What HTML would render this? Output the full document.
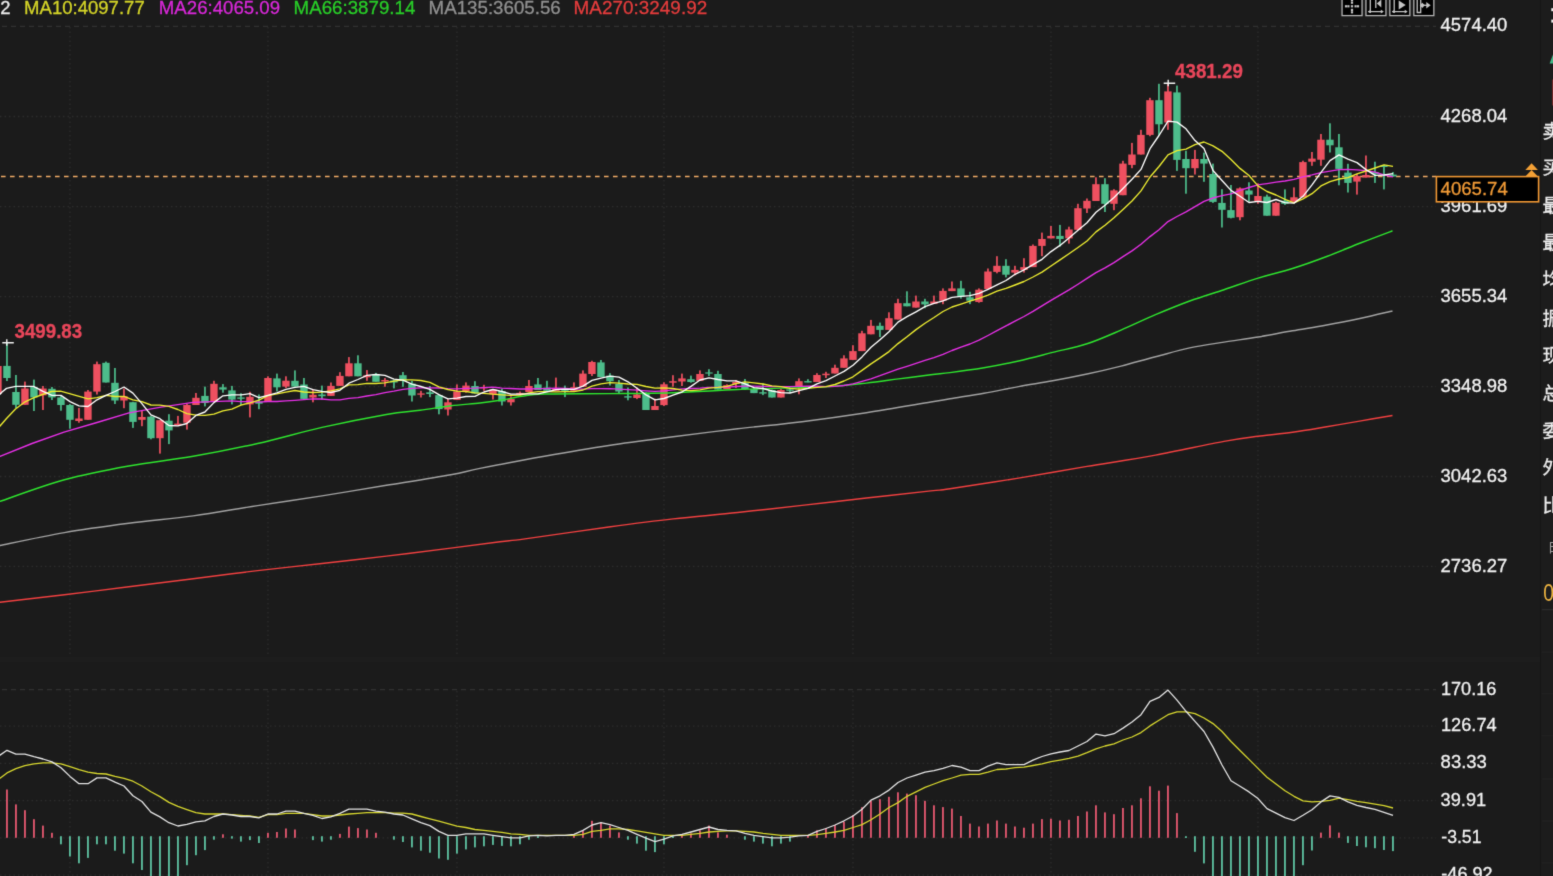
<!DOCTYPE html>
<html lang="zh"><head><meta charset="utf-8"><title>K线图</title>
<style>
html,body{margin:0;padding:0;background:#1b1b1b;overflow:hidden}
body{width:1553px;height:876px;position:relative;font-family:"Liberation Sans","Noto Sans CJK SC",sans-serif}
</style></head><body>
<svg width="1553" height="876" viewBox="0 0 1553 876" style="position:absolute;left:0;top:0;display:block">
<defs><filter id="bl" x="0" y="0" width="1553" height="876" filterUnits="userSpaceOnUse" color-interpolation-filters="sRGB"><feConvolveMatrix order="3" kernelMatrix="0.01440 0.09120 0.01440 0.09120 0.57760 0.09120 0.01440 0.09120 0.01440" divisor="1" edgeMode="duplicate" preserveAlpha="true"/></filter></defs>
<g filter="url(#bl)">
<rect x="0" y="0" width="1553" height="876" fill="#1b1b1b"/>
<rect x="1541" y="0" width="12" height="876" fill="#1c1c1c"/>
<rect x="1540" y="0" width="1" height="876" fill="#151515"/>
<rect x="0" y="656.5" width="1540" height="5.5" fill="#1d1d1d"/>
<g stroke="#2c2c2c" stroke-width="1.3" fill="none" stroke-dasharray="1.5 3">
<path d="M0 116.5H1436"/>
<path d="M0 206.6H1436"/>
<path d="M0 296.7H1436"/>
<path d="M0 386.6H1436"/>
<path d="M0 476.5H1436"/>
<path d="M0 566.4H1436"/>
<path d="M0 726.2H1436"/>
<path d="M0 763.3H1436"/>
<path d="M0 800.6H1436"/>
<path d="M0 837.8H1436"/>
<path d="M0 875.2H1436"/>
<path d="M69.95 27V655.5"/>
<path d="M69.95 691V876"/>
<path d="M267.95 27V655.5"/>
<path d="M267.95 691V876"/>
<path d="M456.95 27V655.5"/>
<path d="M456.95 691V876"/>
<path d="M663.95 27V655.5"/>
<path d="M663.95 691V876"/>
<path d="M852.95 27V655.5"/>
<path d="M852.95 691V876"/>
<path d="M1050.95 27V655.5"/>
<path d="M1050.95 691V876"/>
<path d="M1257.95 27V655.5"/>
<path d="M1257.95 691V876"/>
</g>
<g stroke="#303030" stroke-width="1.2" fill="none" stroke-dasharray="5 4">
<path d="M2 26.4H1436"/>
<path d="M2 689.6H1436"/>
</g>
<path d="M1 176.4H1436" stroke="#efaa66" stroke-width="1.5" fill="none" stroke-dasharray="4.6 4.4"/>
<g>
<rect x="-2.90" y="366.0" width="1.7" height="28.0" fill="#ee5060"/>
<rect x="-5.75" y="366.0" width="7.4" height="28.0" fill="#ee5060"/>
<rect x="6.10" y="342.5" width="1.7" height="38.5" fill="#4dbd8b"/>
<rect x="3.25" y="365.9" width="7.4" height="12.1" fill="#4dbd8b"/>
<rect x="15.10" y="375.0" width="1.7" height="33.0" fill="#4dbd8b"/>
<rect x="12.25" y="392.0" width="7.4" height="12.8" fill="#4dbd8b"/>
<rect x="24.10" y="381.6" width="1.7" height="23.2" fill="#ee5060"/>
<rect x="21.25" y="388.5" width="7.4" height="16.3" fill="#ee5060"/>
<rect x="33.10" y="379.6" width="1.7" height="31.4" fill="#4dbd8b"/>
<rect x="30.25" y="387.0" width="7.4" height="10.4" fill="#4dbd8b"/>
<rect x="42.10" y="386.0" width="1.7" height="24.0" fill="#ee5060"/>
<rect x="39.25" y="388.5" width="7.4" height="6.8" fill="#ee5060"/>
<rect x="51.10" y="387.0" width="1.7" height="13.0" fill="#4dbd8b"/>
<rect x="48.25" y="388.8" width="7.4" height="8.6" fill="#4dbd8b"/>
<rect x="60.10" y="395.3" width="1.7" height="15.4" fill="#4dbd8b"/>
<rect x="57.25" y="397.4" width="7.4" height="7.6" fill="#4dbd8b"/>
<rect x="69.10" y="404.0" width="1.7" height="24.7" fill="#4dbd8b"/>
<rect x="66.25" y="405.0" width="7.4" height="14.8" fill="#4dbd8b"/>
<rect x="78.10" y="408.0" width="1.7" height="14.7" fill="#ee5060"/>
<rect x="75.25" y="418.5" width="7.4" height="2.5" fill="#ee5060"/>
<rect x="87.10" y="390.0" width="1.7" height="29.8" fill="#ee5060"/>
<rect x="84.25" y="391.6" width="7.4" height="28.2" fill="#ee5060"/>
<rect x="96.10" y="361.6" width="1.7" height="32.9" fill="#ee5060"/>
<rect x="93.25" y="364.2" width="7.4" height="27.4" fill="#ee5060"/>
<rect x="105.10" y="361.6" width="1.7" height="20.9" fill="#4dbd8b"/>
<rect x="102.25" y="362.8" width="7.4" height="19.7" fill="#4dbd8b"/>
<rect x="114.10" y="368.0" width="1.7" height="36.0" fill="#4dbd8b"/>
<rect x="111.25" y="382.8" width="7.4" height="17.7" fill="#4dbd8b"/>
<rect x="123.10" y="388.5" width="1.7" height="19.7" fill="#ee5060"/>
<rect x="120.25" y="396.2" width="7.4" height="4.3" fill="#ee5060"/>
<rect x="132.10" y="401.8" width="1.7" height="26.1" fill="#4dbd8b"/>
<rect x="129.25" y="402.2" width="7.4" height="19.7" fill="#4dbd8b"/>
<rect x="141.10" y="410.8" width="1.7" height="15.4" fill="#ee5060"/>
<rect x="138.25" y="417.0" width="7.4" height="2.8" fill="#ee5060"/>
<rect x="150.10" y="415.9" width="1.7" height="23.4" fill="#4dbd8b"/>
<rect x="147.25" y="416.7" width="7.4" height="21.5" fill="#4dbd8b"/>
<rect x="159.10" y="420.2" width="1.7" height="33.4" fill="#ee5060"/>
<rect x="156.25" y="420.2" width="7.4" height="18.0" fill="#ee5060"/>
<rect x="168.10" y="414.2" width="1.7" height="29.9" fill="#4dbd8b"/>
<rect x="165.25" y="420.7" width="7.4" height="9.7" fill="#4dbd8b"/>
<rect x="177.10" y="415.9" width="1.7" height="9.4" fill="#ee5060"/>
<rect x="174.25" y="423.6" width="7.4" height="1.7" fill="#ee5060"/>
<rect x="186.10" y="404.0" width="1.7" height="25.6" fill="#ee5060"/>
<rect x="183.25" y="405.0" width="7.4" height="17.7" fill="#ee5060"/>
<rect x="195.10" y="393.0" width="1.7" height="12.0" fill="#ee5060"/>
<rect x="192.25" y="397.8" width="7.4" height="7.2" fill="#ee5060"/>
<rect x="204.10" y="386.6" width="1.7" height="19.8" fill="#4dbd8b"/>
<rect x="201.25" y="395.9" width="7.4" height="7.1" fill="#4dbd8b"/>
<rect x="213.10" y="380.8" width="1.7" height="20.2" fill="#ee5060"/>
<rect x="210.25" y="383.8" width="7.4" height="17.2" fill="#ee5060"/>
<rect x="222.10" y="384.1" width="1.7" height="8.6" fill="#4dbd8b"/>
<rect x="219.25" y="387.3" width="7.4" height="2.3" fill="#4dbd8b"/>
<rect x="231.10" y="385.9" width="1.7" height="18.5" fill="#4dbd8b"/>
<rect x="228.25" y="390.4" width="7.4" height="9.2" fill="#4dbd8b"/>
<rect x="240.10" y="393.2" width="1.7" height="11.8" fill="#4dbd8b"/>
<rect x="237.25" y="397.4" width="7.4" height="1.4" fill="#4dbd8b"/>
<rect x="249.10" y="391.8" width="1.7" height="25.6" fill="#ee5060"/>
<rect x="246.25" y="396.8" width="7.4" height="7.6" fill="#ee5060"/>
<rect x="258.10" y="394.5" width="1.7" height="14.7" fill="#4dbd8b"/>
<rect x="255.25" y="401.6" width="7.4" height="2.1" fill="#4dbd8b"/>
<rect x="267.10" y="376.3" width="1.7" height="25.3" fill="#ee5060"/>
<rect x="264.25" y="378.0" width="7.4" height="23.6" fill="#ee5060"/>
<rect x="276.10" y="373.6" width="1.7" height="17.8" fill="#4dbd8b"/>
<rect x="273.25" y="378.4" width="7.4" height="8.9" fill="#4dbd8b"/>
<rect x="285.10" y="376.3" width="1.7" height="11.7" fill="#ee5060"/>
<rect x="282.25" y="380.7" width="7.4" height="5.9" fill="#ee5060"/>
<rect x="294.10" y="370.4" width="1.7" height="16.2" fill="#4dbd8b"/>
<rect x="291.25" y="380.8" width="7.4" height="5.8" fill="#4dbd8b"/>
<rect x="303.10" y="378.0" width="1.7" height="20.9" fill="#4dbd8b"/>
<rect x="300.25" y="384.5" width="7.4" height="14.4" fill="#4dbd8b"/>
<rect x="312.10" y="389.3" width="1.7" height="13.0" fill="#ee5060"/>
<rect x="309.25" y="394.8" width="7.4" height="2.7" fill="#ee5060"/>
<rect x="321.10" y="385.6" width="1.7" height="14.0" fill="#4dbd8b"/>
<rect x="318.25" y="394.5" width="7.4" height="1.7" fill="#4dbd8b"/>
<rect x="330.10" y="382.5" width="1.7" height="13.4" fill="#ee5060"/>
<rect x="327.25" y="385.9" width="7.4" height="10.0" fill="#ee5060"/>
<rect x="339.10" y="372.2" width="1.7" height="13.7" fill="#ee5060"/>
<rect x="336.25" y="375.9" width="7.4" height="10.0" fill="#ee5060"/>
<rect x="348.10" y="357.1" width="1.7" height="19.2" fill="#ee5060"/>
<rect x="345.25" y="363.3" width="7.4" height="13.0" fill="#ee5060"/>
<rect x="357.10" y="355.3" width="1.7" height="21.0" fill="#4dbd8b"/>
<rect x="354.25" y="363.3" width="7.4" height="13.0" fill="#4dbd8b"/>
<rect x="366.10" y="370.1" width="1.7" height="10.7" fill="#ee5060"/>
<rect x="363.25" y="375.3" width="7.4" height="2.0" fill="#ee5060"/>
<rect x="375.10" y="372.9" width="1.7" height="8.9" fill="#4dbd8b"/>
<rect x="372.25" y="374.2" width="7.4" height="7.6" fill="#4dbd8b"/>
<rect x="384.10" y="378.0" width="1.7" height="8.7" fill="#ee5060"/>
<rect x="381.25" y="380.0" width="7.4" height="1.5" fill="#ee5060"/>
<rect x="393.10" y="380.0" width="1.7" height="8.4" fill="#4dbd8b"/>
<rect x="390.25" y="380.5" width="7.4" height="2.0" fill="#4dbd8b"/>
<rect x="402.10" y="372.0" width="1.7" height="14.8" fill="#4dbd8b"/>
<rect x="399.25" y="375.2" width="7.4" height="5.8" fill="#4dbd8b"/>
<rect x="411.10" y="380.8" width="1.7" height="20.7" fill="#4dbd8b"/>
<rect x="408.25" y="383.6" width="7.4" height="11.9" fill="#4dbd8b"/>
<rect x="420.10" y="390.8" width="1.7" height="6.7" fill="#ee5060"/>
<rect x="417.25" y="393.4" width="7.4" height="1.3" fill="#ee5060"/>
<rect x="429.10" y="386.0" width="1.7" height="11.1" fill="#4dbd8b"/>
<rect x="426.25" y="392.3" width="7.4" height="1.7" fill="#4dbd8b"/>
<rect x="438.10" y="394.3" width="1.7" height="20.0" fill="#4dbd8b"/>
<rect x="435.25" y="395.1" width="7.4" height="14.0" fill="#4dbd8b"/>
<rect x="447.10" y="399.1" width="1.7" height="16.4" fill="#ee5060"/>
<rect x="444.25" y="402.3" width="7.4" height="7.2" fill="#ee5060"/>
<rect x="456.10" y="384.4" width="1.7" height="15.5" fill="#ee5060"/>
<rect x="453.25" y="391.5" width="7.4" height="8.4" fill="#ee5060"/>
<rect x="465.10" y="382.4" width="1.7" height="10.3" fill="#ee5060"/>
<rect x="462.25" y="385.6" width="7.4" height="5.5" fill="#ee5060"/>
<rect x="474.10" y="381.2" width="1.7" height="12.3" fill="#4dbd8b"/>
<rect x="471.25" y="386.0" width="7.4" height="7.5" fill="#4dbd8b"/>
<rect x="483.10" y="384.8" width="1.7" height="6.0" fill="#ee5060"/>
<rect x="480.25" y="387.0" width="7.4" height="1.4" fill="#ee5060"/>
<rect x="492.10" y="389.2" width="1.7" height="10.3" fill="#ee5060"/>
<rect x="489.25" y="389.6" width="7.4" height="4.7" fill="#ee5060"/>
<rect x="501.10" y="388.8" width="1.7" height="16.7" fill="#4dbd8b"/>
<rect x="498.25" y="391.0" width="7.4" height="10.5" fill="#4dbd8b"/>
<rect x="510.10" y="396.3" width="1.7" height="9.2" fill="#ee5060"/>
<rect x="507.25" y="399.1" width="7.4" height="3.2" fill="#ee5060"/>
<rect x="519.10" y="391.5" width="1.7" height="3.5" fill="#ee5060"/>
<rect x="516.25" y="392.9" width="7.4" height="1.4" fill="#ee5060"/>
<rect x="528.10" y="380.0" width="1.7" height="12.0" fill="#ee5060"/>
<rect x="525.25" y="386.0" width="7.4" height="6.0" fill="#ee5060"/>
<rect x="537.10" y="378.0" width="1.7" height="12.0" fill="#4dbd8b"/>
<rect x="534.25" y="384.4" width="7.4" height="5.6" fill="#4dbd8b"/>
<rect x="546.10" y="380.8" width="1.7" height="10.0" fill="#4dbd8b"/>
<rect x="543.25" y="387.6" width="7.4" height="3.2" fill="#4dbd8b"/>
<rect x="555.10" y="377.6" width="1.7" height="13.2" fill="#ee5060"/>
<rect x="552.25" y="388.4" width="7.4" height="2.4" fill="#ee5060"/>
<rect x="564.10" y="385.6" width="1.7" height="11.5" fill="#4dbd8b"/>
<rect x="561.25" y="389.4" width="7.4" height="1.4" fill="#4dbd8b"/>
<rect x="573.10" y="382.4" width="1.7" height="8.4" fill="#ee5060"/>
<rect x="570.25" y="387.2" width="7.4" height="3.6" fill="#ee5060"/>
<rect x="582.10" y="370.4" width="1.7" height="16.4" fill="#ee5060"/>
<rect x="579.25" y="373.6" width="7.4" height="13.2" fill="#ee5060"/>
<rect x="591.10" y="360.8" width="1.7" height="15.2" fill="#ee5060"/>
<rect x="588.25" y="362.0" width="7.4" height="12.0" fill="#ee5060"/>
<rect x="600.10" y="360.0" width="1.7" height="17.0" fill="#4dbd8b"/>
<rect x="597.25" y="362.4" width="7.4" height="14.6" fill="#4dbd8b"/>
<rect x="609.10" y="373.2" width="1.7" height="12.3" fill="#4dbd8b"/>
<rect x="606.25" y="375.6" width="7.4" height="5.6" fill="#4dbd8b"/>
<rect x="618.10" y="380.0" width="1.7" height="13.5" fill="#4dbd8b"/>
<rect x="615.25" y="384.0" width="7.4" height="7.5" fill="#4dbd8b"/>
<rect x="627.10" y="387.5" width="1.7" height="12.8" fill="#4dbd8b"/>
<rect x="624.25" y="396.2" width="7.4" height="1.4" fill="#4dbd8b"/>
<rect x="636.10" y="387.5" width="1.7" height="11.6" fill="#ee5060"/>
<rect x="633.25" y="394.5" width="7.4" height="3.5" fill="#ee5060"/>
<rect x="645.10" y="392.3" width="1.7" height="17.7" fill="#4dbd8b"/>
<rect x="642.25" y="392.7" width="7.4" height="17.3" fill="#4dbd8b"/>
<rect x="654.10" y="398.7" width="1.7" height="11.3" fill="#ee5060"/>
<rect x="651.25" y="406.0" width="7.4" height="4.0" fill="#ee5060"/>
<rect x="663.10" y="382.3" width="1.7" height="23.7" fill="#ee5060"/>
<rect x="660.25" y="384.3" width="7.4" height="20.8" fill="#ee5060"/>
<rect x="672.10" y="375.2" width="1.7" height="11.5" fill="#ee5060"/>
<rect x="669.25" y="381.2" width="7.4" height="1.5" fill="#ee5060"/>
<rect x="681.10" y="373.6" width="1.7" height="12.4" fill="#ee5060"/>
<rect x="678.25" y="378.4" width="7.4" height="3.1" fill="#ee5060"/>
<rect x="690.10" y="375.6" width="1.7" height="7.1" fill="#4dbd8b"/>
<rect x="687.25" y="379.2" width="7.4" height="2.8" fill="#4dbd8b"/>
<rect x="699.10" y="370.4" width="1.7" height="10.4" fill="#ee5060"/>
<rect x="696.25" y="374.0" width="7.4" height="6.8" fill="#ee5060"/>
<rect x="708.10" y="369.2" width="1.7" height="6.8" fill="#4dbd8b"/>
<rect x="705.25" y="372.4" width="7.4" height="1.2" fill="#4dbd8b"/>
<rect x="717.10" y="370.8" width="1.7" height="18.7" fill="#4dbd8b"/>
<rect x="714.25" y="374.0" width="7.4" height="15.5" fill="#4dbd8b"/>
<rect x="726.10" y="384.3" width="1.7" height="4.8" fill="#ee5060"/>
<rect x="723.25" y="385.1" width="7.4" height="4.0" fill="#ee5060"/>
<rect x="735.10" y="380.0" width="1.7" height="8.0" fill="#ee5060"/>
<rect x="732.25" y="382.0" width="7.4" height="2.0" fill="#ee5060"/>
<rect x="744.10" y="379.0" width="1.7" height="11.0" fill="#4dbd8b"/>
<rect x="741.25" y="383.0" width="7.4" height="6.0" fill="#4dbd8b"/>
<rect x="753.10" y="387.5" width="1.7" height="5.6" fill="#4dbd8b"/>
<rect x="750.25" y="389.1" width="7.4" height="4.0" fill="#4dbd8b"/>
<rect x="762.10" y="383.5" width="1.7" height="11.6" fill="#4dbd8b"/>
<rect x="759.25" y="392.2" width="7.4" height="1.4" fill="#4dbd8b"/>
<rect x="771.10" y="389.5" width="1.7" height="8.0" fill="#4dbd8b"/>
<rect x="768.25" y="390.0" width="7.4" height="7.5" fill="#4dbd8b"/>
<rect x="780.10" y="389.1" width="1.7" height="8.4" fill="#ee5060"/>
<rect x="777.25" y="390.0" width="7.4" height="7.5" fill="#ee5060"/>
<rect x="789.10" y="387.5" width="1.7" height="4.8" fill="#4dbd8b"/>
<rect x="786.25" y="389.4" width="7.4" height="1.4" fill="#4dbd8b"/>
<rect x="798.10" y="378.4" width="1.7" height="15.9" fill="#ee5060"/>
<rect x="795.25" y="381.2" width="7.4" height="4.8" fill="#ee5060"/>
<rect x="807.10" y="379.2" width="1.7" height="3.1" fill="#4dbd8b"/>
<rect x="804.25" y="381.1" width="7.4" height="1.4" fill="#4dbd8b"/>
<rect x="816.10" y="373.2" width="1.7" height="8.8" fill="#ee5060"/>
<rect x="813.25" y="375.0" width="7.4" height="7.0" fill="#ee5060"/>
<rect x="825.10" y="371.8" width="1.7" height="6.2" fill="#ee5060"/>
<rect x="822.25" y="373.7" width="7.4" height="1.5" fill="#ee5060"/>
<rect x="834.10" y="364.7" width="1.7" height="8.8" fill="#ee5060"/>
<rect x="831.25" y="367.8" width="7.4" height="5.7" fill="#ee5060"/>
<rect x="843.10" y="355.3" width="1.7" height="12.5" fill="#ee5060"/>
<rect x="840.25" y="358.4" width="7.4" height="9.4" fill="#ee5060"/>
<rect x="852.10" y="345.2" width="1.7" height="14.7" fill="#ee5060"/>
<rect x="849.25" y="351.1" width="7.4" height="8.8" fill="#ee5060"/>
<rect x="861.10" y="330.8" width="1.7" height="20.3" fill="#ee5060"/>
<rect x="858.25" y="333.3" width="7.4" height="17.8" fill="#ee5060"/>
<rect x="870.10" y="319.9" width="1.7" height="14.4" fill="#ee5060"/>
<rect x="867.25" y="325.8" width="7.4" height="8.5" fill="#ee5060"/>
<rect x="879.10" y="322.6" width="1.7" height="14.5" fill="#4dbd8b"/>
<rect x="876.25" y="325.8" width="7.4" height="4.1" fill="#4dbd8b"/>
<rect x="888.10" y="312.3" width="1.7" height="17.6" fill="#ee5060"/>
<rect x="885.25" y="318.2" width="7.4" height="11.7" fill="#ee5060"/>
<rect x="897.10" y="298.8" width="1.7" height="20.7" fill="#ee5060"/>
<rect x="894.25" y="303.2" width="7.4" height="16.3" fill="#ee5060"/>
<rect x="906.10" y="291.3" width="1.7" height="15.0" fill="#4dbd8b"/>
<rect x="903.25" y="303.2" width="7.4" height="3.1" fill="#4dbd8b"/>
<rect x="915.10" y="295.6" width="1.7" height="12.0" fill="#ee5060"/>
<rect x="912.25" y="301.5" width="7.4" height="6.1" fill="#ee5060"/>
<rect x="924.10" y="298.8" width="1.7" height="9.4" fill="#4dbd8b"/>
<rect x="921.25" y="301.5" width="7.4" height="2.9" fill="#4dbd8b"/>
<rect x="933.10" y="295.6" width="1.7" height="8.2" fill="#ee5060"/>
<rect x="930.25" y="301.5" width="7.4" height="2.3" fill="#ee5060"/>
<rect x="942.10" y="288.4" width="1.7" height="15.8" fill="#ee5060"/>
<rect x="939.25" y="290.9" width="7.4" height="9.8" fill="#ee5060"/>
<rect x="951.10" y="281.5" width="1.7" height="9.6" fill="#ee5060"/>
<rect x="948.25" y="288.4" width="7.4" height="2.7" fill="#ee5060"/>
<rect x="960.10" y="280.8" width="1.7" height="17.8" fill="#4dbd8b"/>
<rect x="957.25" y="288.4" width="7.4" height="8.2" fill="#4dbd8b"/>
<rect x="969.10" y="291.8" width="1.7" height="12.3" fill="#4dbd8b"/>
<rect x="966.25" y="297.3" width="7.4" height="3.4" fill="#4dbd8b"/>
<rect x="978.10" y="288.4" width="1.7" height="14.3" fill="#ee5060"/>
<rect x="975.25" y="289.7" width="7.4" height="12.3" fill="#ee5060"/>
<rect x="987.10" y="268.5" width="1.7" height="20.5" fill="#ee5060"/>
<rect x="984.25" y="271.5" width="7.4" height="17.5" fill="#ee5060"/>
<rect x="996.10" y="256.2" width="1.7" height="17.1" fill="#ee5060"/>
<rect x="993.25" y="265.8" width="7.4" height="6.1" fill="#ee5060"/>
<rect x="1005.10" y="259.2" width="1.7" height="18.2" fill="#4dbd8b"/>
<rect x="1002.25" y="265.8" width="7.4" height="8.9" fill="#4dbd8b"/>
<rect x="1014.10" y="265.8" width="1.7" height="9.5" fill="#ee5060"/>
<rect x="1011.25" y="269.9" width="7.4" height="2.7" fill="#ee5060"/>
<rect x="1023.10" y="258.2" width="1.7" height="14.4" fill="#ee5060"/>
<rect x="1020.25" y="267.1" width="7.4" height="2.8" fill="#ee5060"/>
<rect x="1032.10" y="244.5" width="1.7" height="22.6" fill="#ee5060"/>
<rect x="1029.25" y="245.9" width="7.4" height="21.2" fill="#ee5060"/>
<rect x="1041.10" y="232.6" width="1.7" height="23.6" fill="#ee5060"/>
<rect x="1038.25" y="239.0" width="7.4" height="6.9" fill="#ee5060"/>
<rect x="1050.10" y="226.0" width="1.7" height="12.4" fill="#ee5060"/>
<rect x="1047.25" y="235.9" width="7.4" height="2.5" fill="#ee5060"/>
<rect x="1059.10" y="224.9" width="1.7" height="21.7" fill="#4dbd8b"/>
<rect x="1056.25" y="235.9" width="7.4" height="3.1" fill="#4dbd8b"/>
<rect x="1068.10" y="226.7" width="1.7" height="16.9" fill="#ee5060"/>
<rect x="1065.25" y="229.5" width="7.4" height="8.9" fill="#ee5060"/>
<rect x="1077.10" y="203.8" width="1.7" height="26.0" fill="#ee5060"/>
<rect x="1074.25" y="208.2" width="7.4" height="21.6" fill="#ee5060"/>
<rect x="1086.10" y="198.5" width="1.7" height="14.5" fill="#ee5060"/>
<rect x="1083.25" y="200.8" width="7.4" height="7.7" fill="#ee5060"/>
<rect x="1095.10" y="177.3" width="1.7" height="23.7" fill="#ee5060"/>
<rect x="1092.25" y="184.2" width="7.4" height="16.8" fill="#ee5060"/>
<rect x="1104.10" y="178.2" width="1.7" height="33.8" fill="#4dbd8b"/>
<rect x="1101.25" y="184.2" width="7.4" height="19.6" fill="#4dbd8b"/>
<rect x="1113.10" y="189.2" width="1.7" height="21.0" fill="#ee5060"/>
<rect x="1110.25" y="190.4" width="7.4" height="13.4" fill="#ee5060"/>
<rect x="1122.10" y="160.8" width="1.7" height="34.4" fill="#ee5060"/>
<rect x="1119.25" y="163.6" width="7.4" height="31.6" fill="#ee5060"/>
<rect x="1131.10" y="142.9" width="1.7" height="25.3" fill="#ee5060"/>
<rect x="1128.25" y="154.5" width="7.4" height="10.4" fill="#ee5060"/>
<rect x="1140.10" y="129.8" width="1.7" height="24.7" fill="#ee5060"/>
<rect x="1137.25" y="134.9" width="7.4" height="19.6" fill="#ee5060"/>
<rect x="1149.10" y="97.8" width="1.7" height="38.4" fill="#ee5060"/>
<rect x="1146.25" y="100.2" width="7.4" height="34.7" fill="#ee5060"/>
<rect x="1158.10" y="83.8" width="1.7" height="51.5" fill="#4dbd8b"/>
<rect x="1155.25" y="100.2" width="7.4" height="24.1" fill="#4dbd8b"/>
<rect x="1167.10" y="83.0" width="1.7" height="46.8" fill="#ee5060"/>
<rect x="1164.25" y="91.4" width="7.4" height="31.1" fill="#ee5060"/>
<rect x="1176.10" y="85.6" width="1.7" height="85.3" fill="#4dbd8b"/>
<rect x="1173.25" y="92.4" width="7.4" height="67.5" fill="#4dbd8b"/>
<rect x="1185.10" y="150.8" width="1.7" height="42.9" fill="#4dbd8b"/>
<rect x="1182.25" y="159.0" width="7.4" height="9.2" fill="#4dbd8b"/>
<rect x="1194.10" y="149.9" width="1.7" height="24.6" fill="#ee5060"/>
<rect x="1191.25" y="159.0" width="7.4" height="9.2" fill="#ee5060"/>
<rect x="1203.10" y="152.6" width="1.7" height="29.2" fill="#4dbd8b"/>
<rect x="1200.25" y="159.0" width="7.4" height="4.6" fill="#4dbd8b"/>
<rect x="1212.10" y="163.6" width="1.7" height="39.3" fill="#4dbd8b"/>
<rect x="1209.25" y="174.0" width="7.4" height="27.9" fill="#4dbd8b"/>
<rect x="1221.10" y="189.2" width="1.7" height="38.3" fill="#4dbd8b"/>
<rect x="1218.25" y="202.9" width="7.4" height="6.9" fill="#4dbd8b"/>
<rect x="1230.10" y="185.0" width="1.7" height="33.4" fill="#4dbd8b"/>
<rect x="1227.25" y="210.1" width="7.4" height="7.7" fill="#4dbd8b"/>
<rect x="1239.10" y="187.4" width="1.7" height="32.9" fill="#ee5060"/>
<rect x="1236.25" y="188.4" width="7.4" height="28.8" fill="#ee5060"/>
<rect x="1248.10" y="182.3" width="1.7" height="19.5" fill="#4dbd8b"/>
<rect x="1245.25" y="190.5" width="7.4" height="4.1" fill="#4dbd8b"/>
<rect x="1257.10" y="183.3" width="1.7" height="20.5" fill="#ee5060"/>
<rect x="1254.25" y="196.0" width="7.4" height="5.0" fill="#ee5060"/>
<rect x="1266.10" y="194.6" width="1.7" height="21.1" fill="#4dbd8b"/>
<rect x="1263.25" y="196.6" width="7.4" height="19.1" fill="#4dbd8b"/>
<rect x="1275.10" y="201.8" width="1.7" height="13.9" fill="#ee5060"/>
<rect x="1272.25" y="202.8" width="7.4" height="12.9" fill="#ee5060"/>
<rect x="1284.10" y="189.4" width="1.7" height="15.5" fill="#4dbd8b"/>
<rect x="1281.25" y="200.7" width="7.4" height="3.1" fill="#4dbd8b"/>
<rect x="1293.10" y="187.4" width="1.7" height="14.4" fill="#ee5060"/>
<rect x="1290.25" y="197.3" width="7.4" height="4.5" fill="#ee5060"/>
<rect x="1302.10" y="160.7" width="1.7" height="36.6" fill="#ee5060"/>
<rect x="1299.25" y="162.1" width="7.4" height="35.2" fill="#ee5060"/>
<rect x="1311.10" y="152.0" width="1.7" height="13.8" fill="#ee5060"/>
<rect x="1308.25" y="158.6" width="7.4" height="3.1" fill="#ee5060"/>
<rect x="1320.10" y="134.0" width="1.7" height="31.8" fill="#ee5060"/>
<rect x="1317.25" y="139.7" width="7.4" height="20.0" fill="#ee5060"/>
<rect x="1329.10" y="123.3" width="1.7" height="29.2" fill="#4dbd8b"/>
<rect x="1326.25" y="139.7" width="7.4" height="5.6" fill="#4dbd8b"/>
<rect x="1338.10" y="134.0" width="1.7" height="51.3" fill="#4dbd8b"/>
<rect x="1335.25" y="147.3" width="7.4" height="21.6" fill="#4dbd8b"/>
<rect x="1347.10" y="163.8" width="1.7" height="28.7" fill="#4dbd8b"/>
<rect x="1344.25" y="172.6" width="7.4" height="10.3" fill="#4dbd8b"/>
<rect x="1356.10" y="174.0" width="1.7" height="20.6" fill="#ee5060"/>
<rect x="1353.25" y="176.1" width="7.4" height="5.5" fill="#ee5060"/>
<rect x="1365.10" y="155.5" width="1.7" height="22.0" fill="#ee5060"/>
<rect x="1362.25" y="175.0" width="7.4" height="2.5" fill="#ee5060"/>
<rect x="1374.10" y="161.7" width="1.7" height="21.2" fill="#4dbd8b"/>
<rect x="1371.25" y="172.0" width="7.4" height="2.0" fill="#4dbd8b"/>
<rect x="1383.10" y="164.8" width="1.7" height="24.6" fill="#4dbd8b"/>
<rect x="1380.25" y="165.6" width="7.4" height="1.4" fill="#4dbd8b"/>
<rect x="1392.10" y="172.0" width="1.7" height="4.7" fill="#4dbd8b"/>
<rect x="1389.25" y="174.6" width="7.4" height="1.9" fill="#4dbd8b"/>
</g>
<path d="M-3.0 602.5 C-2.5 602.5 -11.2 603.5 0.0 602.2 C11.2 600.9 42.9 597.4 64.4 594.8 C85.9 592.2 107.3 589.4 128.8 586.7 C150.3 584.0 171.7 581.4 193.2 578.7 C214.7 576.0 236.1 573.1 257.6 570.6 C279.1 568.1 300.5 565.9 322.0 563.5 C343.5 561.1 364.9 558.7 386.4 556.1 C407.9 553.5 431.9 550.5 450.8 548.1 C469.7 545.7 487.6 543.2 500.0 541.7 C512.4 540.2 506.9 541.4 525.0 538.9 C543.1 536.4 584.1 530.3 608.8 527.0 C633.5 523.7 651.7 521.3 673.2 518.9 C694.7 516.5 716.1 514.8 737.6 512.5 C759.1 510.2 780.5 507.8 802.0 505.4 C823.5 503.0 844.9 500.4 866.4 498.0 C887.9 495.6 916.9 492.4 930.8 490.9 C944.7 489.4 935.4 490.9 950.0 488.8 C964.6 486.7 995.7 481.8 1018.5 478.1 C1041.3 474.4 1064.2 470.2 1087.0 466.4 C1109.8 462.6 1132.7 459.3 1155.5 455.1 C1178.3 450.9 1206.9 444.5 1224.0 441.4 C1241.1 438.3 1246.6 437.8 1258.0 436.3 C1269.4 434.8 1281.0 433.8 1292.5 432.2 C1304.0 430.6 1315.3 428.6 1326.7 426.7 C1338.1 424.8 1350.0 422.8 1361.0 420.9 C1372.0 419.0 1387.2 416.4 1392.5 415.5" stroke="#f04040" stroke-width="1.45" fill="none"/>
<path d="M-3.0 546.1 C-2.5 546.0 -11.2 547.8 0.0 545.5 C11.2 543.2 42.9 536.3 64.4 532.6 C85.9 528.9 107.3 526.1 128.8 523.3 C150.3 520.5 171.7 518.8 193.2 515.9 C214.7 513.0 236.1 508.9 257.6 505.6 C279.1 502.3 300.5 499.3 322.0 495.9 C343.5 492.5 364.9 488.8 386.4 485.3 C407.9 481.8 435.2 477.5 450.8 474.7 C466.4 471.9 464.4 471.5 480.0 468.4 C495.6 465.3 522.9 460.0 544.4 456.2 C565.9 452.4 587.3 448.7 608.8 445.5 C630.3 442.3 651.7 439.6 673.2 436.8 C694.7 434.0 716.1 431.3 737.6 428.8 C759.1 426.3 780.5 424.4 802.0 421.7 C823.5 419.0 844.9 416.0 866.4 412.7 C887.9 409.4 916.9 404.3 930.8 402.0 C944.7 399.7 941.1 400.3 950.0 398.8 C958.9 397.3 972.6 395.2 984.0 393.2 C995.4 391.2 1007.0 388.7 1018.5 386.6 C1030.0 384.5 1041.3 382.9 1052.7 380.8 C1064.1 378.7 1075.6 376.4 1087.0 374.0 C1098.4 371.6 1109.6 369.0 1121.0 366.1 C1132.4 363.2 1144.0 359.8 1155.5 356.8 C1167.0 353.8 1178.3 350.3 1189.7 347.9 C1201.1 345.4 1212.6 343.9 1224.0 342.1 C1235.4 340.3 1246.6 338.9 1258.0 337.0 C1269.4 335.1 1281.0 332.8 1292.5 330.8 C1304.0 328.8 1315.3 327.1 1326.7 325.0 C1338.1 322.9 1350.0 320.5 1361.0 318.2 C1372.0 315.9 1387.2 312.2 1392.5 311.0" stroke="#a2a2a2" stroke-width="1.45" fill="none"/>
<path d="M-3.0 502.4 C-2.5 502.2 -11.2 505.2 0.0 501.4 C11.2 497.6 42.9 485.7 64.4 479.8 C85.9 473.9 107.3 469.9 128.8 466.0 C150.3 462.1 171.7 460.1 193.2 456.3 C214.7 452.6 236.1 448.3 257.6 443.5 C279.1 438.7 300.5 432.2 322.0 427.4 C343.5 422.6 370.1 417.4 386.4 414.5 C402.7 411.6 409.3 411.8 420.0 410.3 C430.7 408.9 440.8 407.0 450.8 405.8 C460.8 404.6 471.8 403.9 480.0 403.0 C488.2 402.1 493.0 401.4 500.0 400.3 C507.0 399.2 514.7 397.4 522.0 396.3 C529.3 395.2 529.5 394.4 544.0 394.0 C558.5 393.6 587.3 393.8 608.8 393.6 C630.3 393.4 651.5 393.4 673.0 392.7 C694.5 392.0 716.1 390.4 737.6 389.5 C759.1 388.6 785.9 388.1 802.0 387.6 C818.1 387.1 823.3 387.1 834.0 386.3 C844.7 385.6 855.6 384.3 866.4 383.1 C877.2 381.9 887.9 380.3 898.6 378.9 C909.3 377.5 922.2 375.8 930.8 374.7 C939.4 373.6 941.1 373.8 950.0 372.6 C958.9 371.5 972.6 369.7 984.0 367.8 C995.4 365.9 1007.0 363.6 1018.5 361.0 C1030.0 358.4 1041.3 355.3 1052.7 352.4 C1064.1 349.5 1075.6 347.5 1087.0 343.8 C1098.4 340.1 1109.6 335.0 1121.0 330.1 C1132.4 325.2 1144.0 319.6 1155.5 314.7 C1167.0 309.8 1178.3 305.2 1189.7 301.0 C1201.1 296.8 1212.6 293.5 1224.0 289.7 C1235.4 285.9 1246.6 281.6 1258.0 278.1 C1269.4 274.6 1281.0 272.1 1292.5 268.5 C1304.0 264.9 1315.3 260.8 1326.7 256.5 C1338.1 252.2 1350.0 247.1 1361.0 242.8 C1372.0 238.5 1387.2 232.8 1392.5 230.8" stroke="#2ee42e" stroke-width="1.45" fill="none"/>
<path d="M-3.0 457.5 L0.0 456.3 L32.0 443.5 L64.0 432.2 L97.0 422.5 L129.0 412.9 L161.0 407.1 L193.0 402.3 L231.9 400.8 L240.9 401.7 L249.9 401.5 L258.9 402.1 L267.9 401.5 L276.9 401.5 L285.9 400.9 L294.9 400.3 L303.9 399.6 L312.9 398.8 L321.9 399.0 L330.9 399.9 L339.9 399.8 L348.9 398.4 L357.9 397.7 L366.9 396.0 L375.9 394.7 L384.9 392.6 L393.9 391.2 L402.9 389.4 L411.9 388.4 L420.9 387.9 L429.9 387.8 L438.9 388.0 L447.9 388.7 L456.9 388.8 L465.9 388.3 L474.9 388.1 L483.9 387.7 L492.9 387.2 L501.9 388.1 L510.9 388.5 L520.0 389.0 L529.0 389.0 L538.0 388.6 L547.0 388.5 L556.0 388.2 L565.0 388.4 L574.0 388.8 L583.0 389.2 L592.0 388.6 L601.0 388.7 L610.0 388.7 L619.0 389.1 L628.0 389.7 L637.0 390.2 L646.0 390.8 L655.0 391.3 L664.0 390.9 L673.0 389.8 L682.0 388.9 L691.0 388.5 L700.0 388.1 L709.0 387.3 L718.0 387.4 L727.0 387.2 L736.0 386.5 L745.0 386.1 L754.0 386.1 L763.0 386.4 L772.0 386.7 L781.0 386.6 L790.0 386.7 L799.0 386.4 L808.0 386.2 L817.0 386.2 L826.0 386.7 L835.0 386.3 L844.0 385.5 L853.0 383.9 L862.0 381.4 L871.0 378.8 L880.0 375.7 L889.0 372.3 L898.0 369.2 L907.0 366.3 L916.0 363.4 L925.0 360.4 L934.0 357.6 L943.0 354.4 L952.0 350.5 L961.0 347.1 L970.0 344.0 L979.0 340.2 L988.0 335.5 L997.0 330.6 L1006.0 325.9 L1015.0 321.2 L1024.0 316.5 L1033.0 311.3 L1042.0 305.8 L1051.0 300.4 L1060.0 295.2 L1069.0 289.9 L1078.0 284.2 L1087.0 278.4 L1096.0 272.6 L1105.0 267.9 L1114.0 262.6 L1123.0 256.6 L1132.0 250.9 L1141.0 244.3 L1150.0 236.6 L1159.0 229.7 L1168.0 221.6 L1177.0 216.5 L1186.0 211.9 L1195.0 206.6 L1204.0 201.3 L1213.0 198.0 L1222.0 195.6 L1231.0 193.8 L1240.0 190.4 L1249.0 187.5 L1258.0 184.8 L1267.0 183.6 L1276.0 182.2 L1285.0 181.0 L1294.0 179.4 L1303.0 176.8 L1312.0 174.9 L1321.0 172.6 L1330.0 171.1 L1339.0 169.7 L1348.0 169.4 L1357.0 169.9 L1366.0 170.7 L1375.0 172.2 L1384.0 174.8 L1393.0 176.8" stroke="#e62fe6" stroke-width="1.35" fill="none" stroke-linejoin="round"/>
<path d="M-3.0 429.5 L6.5 418.5 L15.5 409.0 L24.5 402.2 L33.5 397.9 L42.5 394.5 L51.5 391.5 L60.5 391.2 L69.5 393.6 L88.0 398.9 L97.0 397.6 L106.0 395.3 L115.0 396.5 L124.0 396.4 L132.9 399.8 L141.9 401.7 L150.9 405.0 L159.9 405.1 L168.9 406.3 L177.9 409.5 L186.9 413.6 L195.9 415.1 L204.9 415.3 L213.9 414.1 L222.9 410.9 L231.9 409.1 L240.9 405.2 L249.9 402.8 L258.9 400.1 L267.9 395.6 L276.9 393.8 L285.9 392.1 L294.9 390.5 L303.9 392.0 L312.9 392.5 L321.9 392.2 L330.9 390.9 L339.9 388.8 L348.9 384.8 L357.9 384.6 L366.9 383.4 L375.9 383.5 L384.9 382.8 L393.9 381.2 L402.9 379.8 L411.9 379.8 L420.9 380.5 L429.9 382.3 L438.9 386.9 L447.9 389.5 L456.9 391.1 L465.9 391.5 L474.9 392.8 L483.9 393.3 L492.9 394.2 L501.9 394.8 L510.9 395.3 L520.0 395.2 L529.0 392.9 L538.0 391.7 L547.0 391.6 L556.0 391.9 L565.0 391.6 L574.0 391.6 L583.0 390.0 L592.0 386.1 L601.0 383.9 L610.0 382.7 L619.0 383.2 L628.0 384.0 L637.0 384.4 L646.0 386.5 L655.0 388.1 L664.0 387.8 L673.0 388.5 L682.0 390.2 L691.0 390.7 L700.0 389.9 L709.0 388.1 L718.0 387.4 L727.0 386.4 L736.0 383.6 L745.0 381.9 L754.0 382.8 L763.0 384.0 L772.0 385.9 L781.0 386.7 L790.0 388.4 L799.0 389.2 L808.0 388.4 L817.0 387.4 L826.0 386.6 L835.0 384.5 L844.0 381.0 L853.0 376.8 L862.0 370.4 L871.0 363.9 L880.0 357.9 L889.0 351.6 L898.0 343.6 L907.0 336.8 L916.0 329.6 L925.0 323.2 L934.0 317.5 L943.0 311.5 L952.0 307.0 L961.0 304.1 L970.0 301.2 L979.0 298.3 L988.0 295.1 L997.0 291.1 L1006.0 288.4 L1015.0 285.0 L1024.0 281.5 L1033.0 277.0 L1042.0 272.1 L1051.0 266.0 L1060.0 259.9 L1069.0 253.8 L1078.0 247.5 L1087.0 241.0 L1096.0 231.9 L1105.0 225.3 L1114.0 217.7 L1123.0 209.4 L1132.0 201.0 L1141.0 190.9 L1150.0 177.0 L1159.0 166.5 L1168.0 154.8 L1177.0 150.7 L1186.0 149.1 L1195.0 144.6 L1204.0 142.0 L1213.0 145.8 L1222.0 151.3 L1231.0 159.6 L1240.0 168.4 L1249.0 175.5 L1258.0 185.9 L1267.0 191.5 L1276.0 195.0 L1285.0 199.4 L1294.0 202.8 L1303.0 198.8 L1312.0 193.7 L1321.0 185.9 L1330.0 181.6 L1339.0 179.0 L1348.0 177.7 L1357.0 173.8 L1366.0 171.0 L1375.0 168.0 L1384.0 164.9 L1393.0 166.4" stroke="#ecec30" stroke-width="1.35" fill="none" stroke-linejoin="round"/>
<path d="M-3.0 397.5 L2.0 392.0 L6.5 388.4 L15.5 386.4 L24.5 386.3 L33.5 386.3 L43.0 391.4 L52.0 395.3 L61.0 395.4 L70.0 401.6 L79.0 405.8 L88.0 406.5 L97.0 399.8 L106.0 395.3 L115.0 391.5 L124.0 387.0 L132.9 393.1 L141.9 403.6 L150.9 414.8 L159.9 418.7 L168.9 425.5 L177.9 425.9 L186.9 423.5 L195.9 415.4 L204.9 412.0 L213.9 402.6 L222.9 395.8 L231.9 394.8 L240.9 394.9 L249.9 393.7 L258.9 397.7 L267.9 395.3 L276.9 392.9 L285.9 389.3 L294.9 387.3 L303.9 386.3 L312.9 389.7 L321.9 391.4 L330.9 392.5 L339.9 390.3 L348.9 383.2 L357.9 379.5 L366.9 375.3 L375.9 374.5 L384.9 375.3 L393.9 379.2 L402.9 380.1 L411.9 384.2 L420.9 386.5 L429.9 389.3 L438.9 394.6 L447.9 398.9 L456.9 398.1 L465.9 396.5 L474.9 396.4 L483.9 392.0 L492.9 389.5 L501.9 391.5 L510.9 394.2 L520.0 394.1 L529.0 393.8 L538.0 393.9 L547.0 391.8 L556.0 389.6 L565.0 389.2 L574.0 389.4 L583.0 386.1 L592.0 380.4 L601.0 378.1 L610.0 376.2 L619.0 377.1 L628.0 381.8 L637.0 388.3 L646.0 394.9 L655.0 399.9 L664.0 398.5 L673.0 395.2 L682.0 392.0 L691.0 386.4 L700.0 380.0 L709.0 377.8 L718.0 379.5 L727.0 380.8 L736.0 380.8 L745.0 383.8 L754.0 387.7 L763.0 388.5 L772.0 391.0 L781.0 392.6 L790.0 393.0 L799.0 390.6 L808.0 388.3 L817.0 383.8 L826.0 380.6 L835.0 376.0 L844.0 371.4 L853.0 365.2 L862.0 356.9 L871.0 347.3 L880.0 339.7 L889.0 331.7 L898.0 322.1 L907.0 316.7 L916.0 311.8 L925.0 306.7 L934.0 303.4 L943.0 300.9 L952.0 297.3 L961.0 296.4 L970.0 295.6 L979.0 293.3 L988.0 289.4 L997.0 284.9 L1006.0 280.5 L1015.0 274.3 L1024.0 269.8 L1033.0 264.7 L1042.0 259.3 L1051.0 251.6 L1060.0 245.4 L1069.0 237.9 L1078.0 230.3 L1087.0 222.7 L1096.0 212.3 L1105.0 205.3 L1114.0 197.5 L1123.0 188.6 L1132.0 179.3 L1141.0 169.4 L1150.0 148.7 L1159.0 135.5 L1168.0 121.1 L1177.0 122.1 L1186.0 128.8 L1195.0 140.6 L1204.0 148.4 L1213.0 170.5 L1222.0 180.5 L1231.0 190.4 L1240.0 196.3 L1249.0 202.5 L1258.0 201.3 L1267.0 202.5 L1276.0 199.5 L1285.0 202.6 L1294.0 203.1 L1303.0 196.3 L1312.0 184.9 L1321.0 172.3 L1330.0 160.6 L1339.0 154.9 L1348.0 159.1 L1357.0 162.6 L1366.0 169.6 L1375.0 175.4 L1384.0 175.0 L1393.0 173.7" stroke="#ffffff" stroke-width="1.35" fill="none" stroke-linejoin="round"/>
<path d="M2.3 342.8H13.8M6.8 339.3V345.8" stroke="#f2f2f2" stroke-width="1.4" fill="none"/>
<path d="M1163.7 83.3H1175.2M1168.2 79.8V86.3" stroke="#f2f2f2" stroke-width="1.4" fill="none"/>
<g>
<rect x="6.10" y="789.5" width="1.7" height="48.3" fill="#f25c76"/>
<rect x="15.10" y="804.4" width="1.7" height="33.4" fill="#f25c76"/>
<rect x="24.10" y="810.2" width="1.7" height="27.6" fill="#f25c76"/>
<rect x="33.10" y="819.2" width="1.7" height="18.6" fill="#f25c76"/>
<rect x="42.10" y="825.6" width="1.7" height="12.2" fill="#f25c76"/>
<rect x="51.10" y="832.8" width="1.7" height="5.0" fill="#f25c76"/>
<rect x="60.10" y="836.2" width="1.7" height="8.1" fill="#62ccaa"/>
<rect x="69.10" y="836.2" width="1.7" height="20.3" fill="#62ccaa"/>
<rect x="78.10" y="836.2" width="1.7" height="27.1" fill="#62ccaa"/>
<rect x="87.10" y="836.2" width="1.7" height="21.7" fill="#62ccaa"/>
<rect x="96.10" y="836.2" width="1.7" height="8.1" fill="#62ccaa"/>
<rect x="105.10" y="836.2" width="1.7" height="8.1" fill="#62ccaa"/>
<rect x="114.10" y="836.2" width="1.7" height="14.5" fill="#62ccaa"/>
<rect x="123.10" y="836.2" width="1.7" height="17.4" fill="#62ccaa"/>
<rect x="132.10" y="836.2" width="1.7" height="27.1" fill="#62ccaa"/>
<rect x="141.10" y="836.2" width="1.7" height="33.8" fill="#62ccaa"/>
<rect x="150.10" y="836.2" width="1.7" height="43.8" fill="#62ccaa"/>
<rect x="159.10" y="836.2" width="1.7" height="43.8" fill="#62ccaa"/>
<rect x="168.10" y="836.2" width="1.7" height="43.8" fill="#62ccaa"/>
<rect x="177.10" y="836.2" width="1.7" height="43.8" fill="#62ccaa"/>
<rect x="186.10" y="836.2" width="1.7" height="29.0" fill="#62ccaa"/>
<rect x="195.10" y="836.2" width="1.7" height="19.0" fill="#62ccaa"/>
<rect x="204.10" y="836.2" width="1.7" height="13.9" fill="#62ccaa"/>
<rect x="213.10" y="836.2" width="1.7" height="3.5" fill="#62ccaa"/>
<rect x="222.10" y="834.3" width="1.7" height="3.5" fill="#f25c76"/>
<rect x="231.10" y="836.2" width="1.7" height="2.4" fill="#62ccaa"/>
<rect x="240.10" y="836.2" width="1.7" height="5.4" fill="#62ccaa"/>
<rect x="249.10" y="836.2" width="1.7" height="3.9" fill="#62ccaa"/>
<rect x="258.10" y="836.2" width="1.7" height="6.8" fill="#62ccaa"/>
<rect x="267.10" y="832.8" width="1.7" height="5.0" fill="#f25c76"/>
<rect x="276.10" y="832.0" width="1.7" height="5.8" fill="#f25c76"/>
<rect x="285.10" y="828.5" width="1.7" height="9.3" fill="#f25c76"/>
<rect x="294.10" y="829.5" width="1.7" height="8.3" fill="#f25c76"/>
<rect x="312.10" y="836.2" width="1.7" height="3.9" fill="#62ccaa"/>
<rect x="321.10" y="836.2" width="1.7" height="5.4" fill="#62ccaa"/>
<rect x="330.10" y="836.2" width="1.7" height="3.5" fill="#62ccaa"/>
<rect x="339.10" y="833.9" width="1.7" height="3.9" fill="#f25c76"/>
<rect x="348.10" y="826.6" width="1.7" height="11.2" fill="#f25c76"/>
<rect x="357.10" y="828.1" width="1.7" height="9.7" fill="#f25c76"/>
<rect x="366.10" y="829.5" width="1.7" height="8.3" fill="#f25c76"/>
<rect x="375.10" y="832.8" width="1.7" height="5.0" fill="#f25c76"/>
<rect x="393.10" y="836.2" width="1.7" height="3.5" fill="#62ccaa"/>
<rect x="402.10" y="836.2" width="1.7" height="5.8" fill="#62ccaa"/>
<rect x="411.10" y="836.2" width="1.7" height="11.2" fill="#62ccaa"/>
<rect x="420.10" y="836.2" width="1.7" height="14.5" fill="#62ccaa"/>
<rect x="429.10" y="836.2" width="1.7" height="16.5" fill="#62ccaa"/>
<rect x="438.10" y="836.2" width="1.7" height="22.3" fill="#62ccaa"/>
<rect x="447.10" y="836.2" width="1.7" height="23.6" fill="#62ccaa"/>
<rect x="456.10" y="836.2" width="1.7" height="17.4" fill="#62ccaa"/>
<rect x="465.10" y="836.2" width="1.7" height="13.2" fill="#62ccaa"/>
<rect x="474.10" y="836.2" width="1.7" height="11.2" fill="#62ccaa"/>
<rect x="483.10" y="836.2" width="1.7" height="10.1" fill="#62ccaa"/>
<rect x="492.10" y="836.2" width="1.7" height="8.7" fill="#62ccaa"/>
<rect x="501.10" y="836.2" width="1.7" height="9.7" fill="#62ccaa"/>
<rect x="510.10" y="836.2" width="1.7" height="10.1" fill="#62ccaa"/>
<rect x="519.10" y="836.2" width="1.7" height="8.1" fill="#62ccaa"/>
<rect x="528.10" y="836.2" width="1.7" height="3.5" fill="#62ccaa"/>
<rect x="537.10" y="836.2" width="1.7" height="1.8" fill="#62ccaa"/>
<rect x="573.10" y="835.0" width="1.7" height="2.8" fill="#f25c76"/>
<rect x="582.10" y="831.0" width="1.7" height="6.8" fill="#f25c76"/>
<rect x="591.10" y="820.8" width="1.7" height="17.0" fill="#f25c76"/>
<rect x="600.10" y="822.3" width="1.7" height="15.5" fill="#f25c76"/>
<rect x="609.10" y="825.6" width="1.7" height="12.2" fill="#f25c76"/>
<rect x="618.10" y="832.4" width="1.7" height="5.4" fill="#f25c76"/>
<rect x="627.10" y="836.2" width="1.7" height="3.5" fill="#62ccaa"/>
<rect x="636.10" y="836.2" width="1.7" height="7.4" fill="#62ccaa"/>
<rect x="645.10" y="836.2" width="1.7" height="14.5" fill="#62ccaa"/>
<rect x="654.10" y="836.2" width="1.7" height="15.9" fill="#62ccaa"/>
<rect x="663.10" y="836.2" width="1.7" height="8.1" fill="#62ccaa"/>
<rect x="672.10" y="836.2" width="1.7" height="1.8" fill="#62ccaa"/>
<rect x="681.10" y="834.3" width="1.7" height="3.5" fill="#f25c76"/>
<rect x="690.10" y="833.3" width="1.7" height="4.5" fill="#f25c76"/>
<rect x="699.10" y="830.4" width="1.7" height="7.4" fill="#f25c76"/>
<rect x="708.10" y="825.6" width="1.7" height="12.2" fill="#f25c76"/>
<rect x="717.10" y="832.4" width="1.7" height="5.4" fill="#f25c76"/>
<rect x="726.10" y="834.7" width="1.7" height="3.1" fill="#f25c76"/>
<rect x="744.10" y="836.2" width="1.7" height="3.5" fill="#62ccaa"/>
<rect x="753.10" y="836.2" width="1.7" height="5.4" fill="#62ccaa"/>
<rect x="762.10" y="836.2" width="1.7" height="7.4" fill="#62ccaa"/>
<rect x="771.10" y="836.2" width="1.7" height="10.1" fill="#62ccaa"/>
<rect x="780.10" y="836.2" width="1.7" height="7.4" fill="#62ccaa"/>
<rect x="789.10" y="836.2" width="1.7" height="5.4" fill="#62ccaa"/>
<rect x="807.10" y="836.0" width="1.7" height="1.8" fill="#f25c76"/>
<rect x="816.10" y="830.4" width="1.7" height="7.4" fill="#f25c76"/>
<rect x="825.10" y="828.1" width="1.7" height="9.7" fill="#f25c76"/>
<rect x="834.10" y="825.0" width="1.7" height="12.8" fill="#f25c76"/>
<rect x="843.10" y="821.7" width="1.7" height="16.1" fill="#f25c76"/>
<rect x="852.10" y="815.0" width="1.7" height="22.8" fill="#f25c76"/>
<rect x="861.10" y="807.3" width="1.7" height="30.5" fill="#f25c76"/>
<rect x="870.10" y="800.6" width="1.7" height="37.2" fill="#f25c76"/>
<rect x="879.10" y="799.2" width="1.7" height="38.6" fill="#f25c76"/>
<rect x="888.10" y="796.8" width="1.7" height="41.0" fill="#f25c76"/>
<rect x="897.10" y="792.3" width="1.7" height="45.5" fill="#f25c76"/>
<rect x="906.10" y="793.6" width="1.7" height="44.2" fill="#f25c76"/>
<rect x="915.10" y="795.2" width="1.7" height="42.6" fill="#f25c76"/>
<rect x="924.10" y="800.8" width="1.7" height="37.0" fill="#f25c76"/>
<rect x="933.10" y="805.3" width="1.7" height="32.5" fill="#f25c76"/>
<rect x="942.10" y="807.1" width="1.7" height="30.7" fill="#f25c76"/>
<rect x="951.10" y="808.6" width="1.7" height="29.2" fill="#f25c76"/>
<rect x="960.10" y="816.0" width="1.7" height="21.8" fill="#f25c76"/>
<rect x="969.10" y="823.6" width="1.7" height="14.2" fill="#f25c76"/>
<rect x="978.10" y="826.5" width="1.7" height="11.3" fill="#f25c76"/>
<rect x="987.10" y="823.6" width="1.7" height="14.2" fill="#f25c76"/>
<rect x="996.10" y="820.5" width="1.7" height="17.3" fill="#f25c76"/>
<rect x="1005.10" y="823.6" width="1.7" height="14.2" fill="#f25c76"/>
<rect x="1014.10" y="826.5" width="1.7" height="11.3" fill="#f25c76"/>
<rect x="1023.10" y="827.7" width="1.7" height="10.1" fill="#f25c76"/>
<rect x="1032.10" y="823.6" width="1.7" height="14.2" fill="#f25c76"/>
<rect x="1041.10" y="819.1" width="1.7" height="18.7" fill="#f25c76"/>
<rect x="1050.10" y="818.7" width="1.7" height="19.1" fill="#f25c76"/>
<rect x="1059.10" y="820.5" width="1.7" height="17.3" fill="#f25c76"/>
<rect x="1068.10" y="819.8" width="1.7" height="18.0" fill="#f25c76"/>
<rect x="1077.10" y="816.0" width="1.7" height="21.8" fill="#f25c76"/>
<rect x="1086.10" y="811.5" width="1.7" height="26.3" fill="#f25c76"/>
<rect x="1095.10" y="805.3" width="1.7" height="32.5" fill="#f25c76"/>
<rect x="1104.10" y="812.4" width="1.7" height="25.4" fill="#f25c76"/>
<rect x="1113.10" y="814.2" width="1.7" height="23.6" fill="#f25c76"/>
<rect x="1122.10" y="808.0" width="1.7" height="29.8" fill="#f25c76"/>
<rect x="1131.10" y="805.3" width="1.7" height="32.5" fill="#f25c76"/>
<rect x="1140.10" y="798.3" width="1.7" height="39.5" fill="#f25c76"/>
<rect x="1149.10" y="786.3" width="1.7" height="51.5" fill="#f25c76"/>
<rect x="1158.10" y="790.7" width="1.7" height="47.1" fill="#f25c76"/>
<rect x="1167.10" y="785.6" width="1.7" height="52.2" fill="#f25c76"/>
<rect x="1176.10" y="813.1" width="1.7" height="24.7" fill="#f25c76"/>
<rect x="1185.10" y="836.2" width="1.7" height="1.8" fill="#62ccaa"/>
<rect x="1194.10" y="836.2" width="1.7" height="15.6" fill="#62ccaa"/>
<rect x="1203.10" y="836.2" width="1.7" height="27.2" fill="#62ccaa"/>
<rect x="1212.10" y="836.2" width="1.7" height="43.8" fill="#62ccaa"/>
<rect x="1221.10" y="836.2" width="1.7" height="43.8" fill="#62ccaa"/>
<rect x="1230.10" y="836.2" width="1.7" height="43.8" fill="#62ccaa"/>
<rect x="1239.10" y="836.2" width="1.7" height="43.8" fill="#62ccaa"/>
<rect x="1248.10" y="836.2" width="1.7" height="43.8" fill="#62ccaa"/>
<rect x="1257.10" y="836.2" width="1.7" height="43.8" fill="#62ccaa"/>
<rect x="1266.10" y="836.2" width="1.7" height="43.8" fill="#62ccaa"/>
<rect x="1275.10" y="836.2" width="1.7" height="43.8" fill="#62ccaa"/>
<rect x="1284.10" y="836.2" width="1.7" height="43.8" fill="#62ccaa"/>
<rect x="1293.10" y="836.2" width="1.7" height="43.8" fill="#62ccaa"/>
<rect x="1302.10" y="836.2" width="1.7" height="29.0" fill="#62ccaa"/>
<rect x="1311.10" y="836.2" width="1.7" height="14.3" fill="#62ccaa"/>
<rect x="1320.10" y="832.6" width="1.7" height="5.2" fill="#f25c76"/>
<rect x="1329.10" y="825.4" width="1.7" height="12.4" fill="#f25c76"/>
<rect x="1338.10" y="832.6" width="1.7" height="5.2" fill="#f25c76"/>
<rect x="1347.10" y="836.2" width="1.7" height="6.7" fill="#62ccaa"/>
<rect x="1356.10" y="836.2" width="1.7" height="9.8" fill="#62ccaa"/>
<rect x="1365.10" y="836.2" width="1.7" height="11.1" fill="#62ccaa"/>
<rect x="1374.10" y="836.2" width="1.7" height="12.0" fill="#62ccaa"/>
<rect x="1383.10" y="836.2" width="1.7" height="13.8" fill="#62ccaa"/>
<rect x="1392.10" y="836.2" width="1.7" height="14.9" fill="#62ccaa"/>
</g>
<path d="M-3.0 780.5 L0.0 778.3 L7.0 772.9 L15.9 768.6 L24.9 765.7 L34.0 763.8 L43.0 762.8 L52.0 762.8 L61.0 763.8 L70.0 766.7 L79.0 769.6 L88.0 772.1 L97.0 773.5 L106.0 774.0 L115.0 776.4 L124.0 778.3 L132.9 781.2 L141.9 786.0 L150.9 791.8 L159.9 796.6 L168.9 802.4 L177.9 806.3 L186.9 809.6 L195.9 812.7 L204.9 814.0 L213.9 814.0 L222.9 814.0 L231.9 814.6 L240.9 815.4 L249.9 816.0 L258.9 817.3 L267.9 814.6 L276.9 814.6 L285.9 813.4 L294.9 813.4 L303.9 813.4 L312.9 814.6 L321.9 816.0 L330.9 816.0 L339.9 815.0 L348.9 814.0 L357.9 813.4 L366.9 812.7 L375.9 812.7 L384.9 812.7 L393.9 813.1 L402.9 813.1 L411.9 814.0 L420.9 816.5 L429.9 818.9 L438.9 821.2 L447.9 823.7 L456.9 826.2 L465.9 827.5 L474.9 829.5 L483.9 830.4 L492.9 831.4 L501.9 832.4 L510.9 833.9 L520.0 834.3 L529.0 835.3 L538.0 835.3 L547.0 835.3 L556.0 835.3 L565.0 835.3 L574.0 835.3 L583.0 834.3 L592.0 831.4 L601.0 830.4 L610.0 828.9 L619.0 828.9 L628.0 829.5 L637.0 830.8 L646.0 832.4 L655.0 833.9 L664.0 835.3 L673.0 835.3 L682.0 835.3 L691.0 834.3 L700.0 833.3 L709.0 832.0 L718.0 831.4 L727.0 830.8 L736.0 830.8 L745.0 831.4 L754.0 832.0 L763.0 833.3 L772.0 834.3 L781.0 835.3 L790.0 835.3 L799.0 835.3 L808.0 835.3 L817.0 834.7 L826.0 833.3 L835.0 832.0 L844.0 830.4 L853.0 827.5 L862.0 824.6 L871.0 819.8 L880.0 814.0 L889.0 807.5 L898.0 802.6 L907.0 796.3 L916.0 791.9 L925.0 787.4 L934.0 784.0 L943.0 780.7 L952.0 778.0 L961.0 775.1 L970.0 774.4 L979.0 774.4 L988.0 772.2 L997.0 769.5 L1006.0 769.0 L1015.0 767.7 L1024.0 767.2 L1033.0 765.5 L1042.0 763.9 L1051.0 761.7 L1060.0 760.1 L1069.0 758.3 L1078.0 756.1 L1087.0 752.7 L1096.0 748.9 L1105.0 746.0 L1114.0 743.8 L1123.0 740.0 L1132.0 737.0 L1141.0 732.6 L1150.0 725.9 L1159.0 720.3 L1168.0 714.7 L1177.0 711.8 L1186.0 711.8 L1195.0 713.6 L1204.0 718.0 L1213.0 723.6 L1222.0 731.5 L1231.0 741.5 L1240.0 750.5 L1249.0 759.4 L1258.0 768.4 L1267.0 777.3 L1276.0 784.0 L1285.0 790.7 L1294.0 796.3 L1303.0 800.8 L1312.0 801.9 L1321.0 801.3 L1330.0 800.4 L1339.0 798.1 L1348.0 799.7 L1357.0 801.3 L1366.0 802.6 L1375.0 804.2 L1384.0 805.7 L1393.0 808.0" stroke="#d6d62e" stroke-width="1.3" fill="none" stroke-linejoin="round"/>
<path d="M-3.0 756.5 L0.0 755.1 L7.0 750.3 L15.9 754.1 L24.9 754.1 L34.0 756.7 L43.0 759.0 L52.0 761.9 L61.0 767.7 L70.0 776.4 L79.0 783.7 L88.0 783.7 L97.0 777.9 L106.0 777.9 L115.0 782.2 L124.0 786.0 L132.9 795.7 L141.9 801.5 L150.9 812.1 L159.9 816.9 L168.9 822.7 L177.9 826.0 L186.9 824.3 L195.9 821.8 L204.9 820.8 L213.9 816.5 L222.9 814.0 L231.9 815.0 L240.9 816.5 L249.9 816.5 L258.9 817.9 L267.9 814.0 L276.9 814.0 L285.9 811.1 L294.9 811.1 L303.9 813.4 L312.9 815.4 L321.9 818.5 L330.9 816.9 L339.9 813.4 L348.9 809.2 L357.9 809.2 L366.9 809.2 L375.9 811.1 L384.9 812.1 L393.9 814.0 L402.9 815.0 L411.9 818.9 L420.9 822.7 L429.9 825.6 L438.9 831.4 L447.9 835.3 L456.9 835.3 L465.9 833.9 L474.9 833.9 L483.9 833.9 L492.9 835.3 L501.9 836.6 L510.9 837.8 L520.0 837.8 L529.0 835.9 L538.0 835.3 L547.0 835.9 L556.0 835.3 L565.0 835.3 L574.0 834.3 L583.0 830.4 L592.0 825.0 L601.0 822.7 L610.0 824.6 L619.0 827.5 L628.0 830.4 L637.0 834.3 L646.0 838.2 L655.0 841.6 L664.0 839.1 L673.0 835.9 L682.0 834.3 L691.0 832.0 L700.0 829.5 L709.0 827.0 L718.0 829.5 L727.0 830.4 L736.0 830.8 L745.0 833.3 L754.0 835.3 L763.0 836.6 L772.0 837.8 L781.0 837.8 L790.0 837.2 L799.0 835.9 L808.0 835.3 L817.0 831.4 L826.0 828.5 L835.0 825.0 L844.0 820.8 L853.0 816.0 L862.0 809.2 L871.0 800.1 L880.0 795.8 L889.0 790.1 L898.0 782.5 L907.0 778.0 L916.0 775.1 L925.0 772.2 L934.0 770.6 L943.0 768.4 L952.0 765.5 L961.0 767.2 L970.0 770.6 L979.0 770.6 L988.0 766.1 L997.0 762.8 L1006.0 764.6 L1015.0 764.6 L1024.0 764.6 L1033.0 760.1 L1042.0 756.5 L1051.0 753.8 L1060.0 752.0 L1069.0 750.5 L1078.0 746.0 L1087.0 741.5 L1096.0 734.1 L1105.0 735.9 L1114.0 733.7 L1123.0 728.1 L1132.0 722.0 L1141.0 714.7 L1150.0 701.3 L1159.0 697.4 L1168.0 690.1 L1177.0 700.1 L1186.0 711.3 L1195.0 721.4 L1204.0 731.5 L1213.0 747.1 L1222.0 765.0 L1231.0 780.7 L1240.0 786.3 L1249.0 791.9 L1258.0 798.6 L1267.0 808.6 L1276.0 813.1 L1285.0 817.6 L1294.0 820.5 L1303.0 815.3 L1312.0 809.8 L1321.0 801.9 L1330.0 795.9 L1339.0 797.4 L1348.0 801.9 L1357.0 805.3 L1366.0 807.5 L1375.0 809.3 L1384.0 812.4 L1393.0 815.3" stroke="#e4e4e4" stroke-width="1.3" fill="none" stroke-linejoin="round"/>
<text x="0.2" y="14.3" fill="#ececec" stroke="#ececec" stroke-width="0.3" font-size="18.5" font-weight="normal" text-anchor="start" font-family="'Liberation Sans', 'Noto Sans CJK SC', sans-serif">2</text>
<text x="24.1" y="14.3" fill="#d4d428" stroke="#d4d428" stroke-width="0.3" font-size="18.5" font-weight="normal" text-anchor="start" font-family="'Liberation Sans', 'Noto Sans CJK SC', sans-serif" textLength="120.6" lengthAdjust="spacingAndGlyphs">MA10:4097.77</text>
<text x="158.8" y="14.3" fill="#d828d8" stroke="#d828d8" stroke-width="0.3" font-size="18.5" font-weight="normal" text-anchor="start" font-family="'Liberation Sans', 'Noto Sans CJK SC', sans-serif" textLength="121.3" lengthAdjust="spacingAndGlyphs">MA26:4065.09</text>
<text x="293.6" y="14.3" fill="#28cc28" stroke="#28cc28" stroke-width="0.3" font-size="18.5" font-weight="normal" text-anchor="start" font-family="'Liberation Sans', 'Noto Sans CJK SC', sans-serif" textLength="121.8" lengthAdjust="spacingAndGlyphs">MA66:3879.14</text>
<text x="428.6" y="14.3" fill="#909090" stroke="#909090" stroke-width="0.3" font-size="18.5" font-weight="normal" text-anchor="start" font-family="'Liberation Sans', 'Noto Sans CJK SC', sans-serif" textLength="132.2" lengthAdjust="spacingAndGlyphs">MA135:3605.56</text>
<text x="573.6" y="14.3" fill="#e43c3c" stroke="#e43c3c" stroke-width="0.3" font-size="18.5" font-weight="normal" text-anchor="start" font-family="'Liberation Sans', 'Noto Sans CJK SC', sans-serif" textLength="133.6" lengthAdjust="spacingAndGlyphs">MA270:3249.92</text>
<text x="1440.6" y="31.4" fill="#f2f2f2" stroke="#f2f2f2" stroke-width="0.3" font-size="18.7" font-weight="normal" text-anchor="start" font-family="'Liberation Sans', 'Noto Sans CJK SC', sans-serif" textLength="66.7" lengthAdjust="spacingAndGlyphs">4574.40</text>
<text x="1440.6" y="121.5" fill="#f2f2f2" stroke="#f2f2f2" stroke-width="0.3" font-size="18.7" font-weight="normal" text-anchor="start" font-family="'Liberation Sans', 'Noto Sans CJK SC', sans-serif" textLength="66.7" lengthAdjust="spacingAndGlyphs">4268.04</text>
<text x="1440.6" y="211.6" fill="#f2f2f2" stroke="#f2f2f2" stroke-width="0.3" font-size="18.7" font-weight="normal" text-anchor="start" font-family="'Liberation Sans', 'Noto Sans CJK SC', sans-serif" textLength="66.7" lengthAdjust="spacingAndGlyphs">3961.69</text>
<text x="1440.6" y="301.8" fill="#f2f2f2" stroke="#f2f2f2" stroke-width="0.3" font-size="18.7" font-weight="normal" text-anchor="start" font-family="'Liberation Sans', 'Noto Sans CJK SC', sans-serif" textLength="66.7" lengthAdjust="spacingAndGlyphs">3655.34</text>
<text x="1440.6" y="391.7" fill="#f2f2f2" stroke="#f2f2f2" stroke-width="0.3" font-size="18.7" font-weight="normal" text-anchor="start" font-family="'Liberation Sans', 'Noto Sans CJK SC', sans-serif" textLength="66.7" lengthAdjust="spacingAndGlyphs">3348.98</text>
<text x="1440.6" y="481.7" fill="#f2f2f2" stroke="#f2f2f2" stroke-width="0.3" font-size="18.7" font-weight="normal" text-anchor="start" font-family="'Liberation Sans', 'Noto Sans CJK SC', sans-serif" textLength="66.7" lengthAdjust="spacingAndGlyphs">3042.63</text>
<text x="1440.6" y="571.7" fill="#f2f2f2" stroke="#f2f2f2" stroke-width="0.3" font-size="18.7" font-weight="normal" text-anchor="start" font-family="'Liberation Sans', 'Noto Sans CJK SC', sans-serif" textLength="66.7" lengthAdjust="spacingAndGlyphs">2736.27</text>
<text x="1440.9" y="694.8000000000001" fill="#f2f2f2" stroke="#f2f2f2" stroke-width="0.3" font-size="18.7" font-weight="normal" text-anchor="start" font-family="'Liberation Sans', 'Noto Sans CJK SC', sans-serif" textLength="55.6" lengthAdjust="spacingAndGlyphs">170.16</text>
<text x="1440.9" y="731.2" fill="#f2f2f2" stroke="#f2f2f2" stroke-width="0.3" font-size="18.7" font-weight="normal" text-anchor="start" font-family="'Liberation Sans', 'Noto Sans CJK SC', sans-serif" textLength="55.8" lengthAdjust="spacingAndGlyphs">126.74</text>
<text x="1440.6" y="768.2" fill="#f2f2f2" stroke="#f2f2f2" stroke-width="0.3" font-size="18.7" font-weight="normal" text-anchor="start" font-family="'Liberation Sans', 'Noto Sans CJK SC', sans-serif" textLength="46.3" lengthAdjust="spacingAndGlyphs">83.33</text>
<text x="1440.6" y="805.8000000000001" fill="#f2f2f2" stroke="#f2f2f2" stroke-width="0.3" font-size="18.7" font-weight="normal" text-anchor="start" font-family="'Liberation Sans', 'Noto Sans CJK SC', sans-serif" textLength="45.6" lengthAdjust="spacingAndGlyphs">39.91</text>
<text x="1441.3" y="843.3000000000001" fill="#f2f2f2" stroke="#f2f2f2" stroke-width="0.3" font-size="18.7" font-weight="normal" text-anchor="start" font-family="'Liberation Sans', 'Noto Sans CJK SC', sans-serif" textLength="40.2" lengthAdjust="spacingAndGlyphs">-3.51</text>
<text x="1441.3" y="880.3000000000001" fill="#f2f2f2" stroke="#f2f2f2" stroke-width="0.3" font-size="18.7" font-weight="normal" text-anchor="start" font-family="'Liberation Sans', 'Noto Sans CJK SC', sans-serif" textLength="51.4" lengthAdjust="spacingAndGlyphs">-46.92</text>
<text x="1175.1" y="78.4" fill="#e8465a" stroke="#e8465a" stroke-width="0.3" font-size="19.6" font-weight="bold" text-anchor="start" font-family="'Liberation Sans', 'Noto Sans CJK SC', sans-serif" textLength="67.7" lengthAdjust="spacingAndGlyphs">4381.29</text>
<text x="14.5" y="337.6" fill="#e8465a" stroke="#e8465a" stroke-width="0.3" font-size="19.6" font-weight="bold" text-anchor="start" font-family="'Liberation Sans', 'Noto Sans CJK SC', sans-serif" textLength="67.7" lengthAdjust="spacingAndGlyphs">3499.83</text>
<rect x="1436.4" y="176.6" width="102.2" height="25.2" fill="#000" stroke="#ee9632" stroke-width="1.6"/>
<text x="1440.6" y="195.1" fill="#f09a36" stroke="#f09a36" stroke-width="0.3" font-size="18.5" font-weight="normal" text-anchor="start" font-family="'Liberation Sans', 'Noto Sans CJK SC', sans-serif" textLength="67.2" lengthAdjust="spacingAndGlyphs">4065.74</text>
<path d="M1525.3 170 L1531.6 163.2 L1537.9 170 Z M1525.3 176.6 L1531.6 169.9 L1537.9 176.6 Z" fill="#f3a035"/>
<rect x="1342.0500000000002" y="-5" width="20" height="20.6" fill="#000" stroke="#b4b4b4" stroke-width="1.3"/>
<rect x="1365.95" y="-5" width="20" height="20.6" fill="#000" stroke="#b4b4b4" stroke-width="1.3"/>
<rect x="1389.8500000000001" y="-5" width="20" height="20.6" fill="#000" stroke="#b4b4b4" stroke-width="1.3"/>
<rect x="1413.8500000000001" y="-5" width="20" height="20.6" fill="#000" stroke="#b4b4b4" stroke-width="1.3"/>
<g fill="#c4c4c4">
<rect x="1350.9" y="5.2" width="2.2" height="2.2"/>
<rect x="1344.9" y="5.2" width="2.2" height="2.2"/>
<rect x="1347.3" y="5.2" width="2.2" height="2.2"/>
<rect x="1354.5" y="5.2" width="2.2" height="2.2"/>
<rect x="1356.9" y="5.2" width="2.2" height="2.2"/>
<rect x="1350.9" y="-0.8" width="2.2" height="2.2"/>
<rect x="1350.9" y="1.6" width="2.2" height="2.2"/>
<rect x="1350.9" y="8.8" width="2.2" height="2.2"/>
<rect x="1350.9" y="11.2" width="2.2" height="2.2"/>
</g>
<g stroke="#c4c4c4" stroke-width="1.3" fill="#c4c4c4">
<path d="M1370.3 -2V13M1368.3 11.6H1382.8" fill="none"/>
<path d="M1370.3 -3l-1.8 3h3.6z M1383.8 11.6l-3 -1.8v3.6z M1367.8999999999999 11.6l2.4 -1.6v3.2z" stroke="none"/>
<path d="M1375.8 -1V8" fill="none"/>
<path d="M1376.8 3.5L1381.3 -0.5V7.5Z" stroke="none"/>
</g>
<g stroke="#c4c4c4" stroke-width="1.3" fill="#c4c4c4">
<path d="M1394.2 -2V13M1392.2 11.6H1406.7" fill="none"/>
<path d="M1394.2 -3l-1.8 3h3.6z M1407.7 11.6l-3 -1.8v3.6z M1391.8 11.6l2.4 -1.6v3.2z" stroke="none"/>
<path d="M1398.7 0.5L1405.7 5L1398.7 9.5Z" stroke="none"/>
</g>
<g stroke="#c4c4c4" stroke-width="1.3" fill="#c4c4c4">
<path d="M1420.7 -3H1417.2V12.5H1420.7V-3" fill="none"/>
<path d="M1420.7 5.3H1427.2" fill="none"/>
<path d="M1419.7 5.3l2.6 -2.6l2.6 2.6l-2.6 2.6z M1430.7 5.3l-4.4 -3.3v6.6z" stroke="none"/>
</g>
<rect x="1551.3" y="8.2" width="2" height="3" fill="#f0f0f0"/><rect x="1551.3" y="19.6" width="2" height="3" fill="#f0f0f0"/>
<path d="M1549.6 63.4L1553 54.5V63.4Z" fill="#46b98a"/>
<rect x="1552.2" y="79.5" width="0.8" height="26" fill="#8a3030"/>
<rect x="1542" y="651.6" width="11" height="1" fill="#232323"/>
<rect x="1542" y="693.3" width="11" height="1" fill="#232323"/>
<rect x="1542" y="735.3" width="11" height="1" fill="#232323"/>
<rect x="1542" y="778.5" width="11" height="1" fill="#232323"/>
<rect x="1542" y="820.5" width="11" height="1" fill="#232323"/>
<rect x="1542" y="862.4" width="11" height="1" fill="#232323"/>
<text x="1542.6" y="137.8" fill="#ececec" stroke="#ececec" stroke-width="0.3" font-size="18.5" font-weight="normal" text-anchor="start" font-family="'Liberation Sans', 'Noto Sans CJK SC', sans-serif">卖</text>
<text x="1542.6" y="173.8" fill="#ececec" stroke="#ececec" stroke-width="0.3" font-size="18.5" font-weight="normal" text-anchor="start" font-family="'Liberation Sans', 'Noto Sans CJK SC', sans-serif">买</text>
<text x="1542.6" y="211.8" fill="#ececec" stroke="#ececec" stroke-width="0.3" font-size="18.5" font-weight="normal" text-anchor="start" font-family="'Liberation Sans', 'Noto Sans CJK SC', sans-serif">最</text>
<text x="1542.6" y="249.3" fill="#ececec" stroke="#ececec" stroke-width="0.3" font-size="18.5" font-weight="normal" text-anchor="start" font-family="'Liberation Sans', 'Noto Sans CJK SC', sans-serif">最</text>
<text x="1542.6" y="286.40000000000003" fill="#ececec" stroke="#ececec" stroke-width="0.3" font-size="18.5" font-weight="normal" text-anchor="start" font-family="'Liberation Sans', 'Noto Sans CJK SC', sans-serif">均</text>
<text x="1542.6" y="324.8" fill="#ececec" stroke="#ececec" stroke-width="0.3" font-size="18.5" font-weight="normal" text-anchor="start" font-family="'Liberation Sans', 'Noto Sans CJK SC', sans-serif">振</text>
<text x="1542.6" y="361.8" fill="#ececec" stroke="#ececec" stroke-width="0.3" font-size="18.5" font-weight="normal" text-anchor="start" font-family="'Liberation Sans', 'Noto Sans CJK SC', sans-serif">现</text>
<text x="1542.6" y="399.8" fill="#ececec" stroke="#ececec" stroke-width="0.3" font-size="18.5" font-weight="normal" text-anchor="start" font-family="'Liberation Sans', 'Noto Sans CJK SC', sans-serif">总</text>
<text x="1542.6" y="436.8" fill="#ececec" stroke="#ececec" stroke-width="0.3" font-size="18.5" font-weight="normal" text-anchor="start" font-family="'Liberation Sans', 'Noto Sans CJK SC', sans-serif">委</text>
<text x="1542.6" y="474.3" fill="#ececec" stroke="#ececec" stroke-width="0.3" font-size="18.5" font-weight="normal" text-anchor="start" font-family="'Liberation Sans', 'Noto Sans CJK SC', sans-serif">外</text>
<text x="1542.6" y="511.8" fill="#ececec" stroke="#ececec" stroke-width="0.3" font-size="18.5" font-weight="normal" text-anchor="start" font-family="'Liberation Sans', 'Noto Sans CJK SC', sans-serif">比</text>
<text x="1548.8" y="552.6" fill="#9a9a9a" font-size="15" font-weight="normal" text-anchor="start" font-family="'Liberation Sans', 'Noto Sans CJK SC', sans-serif">时</text>
<text transform="translate(1543.3 600.8) scale(0.84 1)" fill="#e8b040" font-size="23" font-family="'Liberation Sans', 'Noto Sans CJK SC', sans-serif">0.00</text>
<rect x="1542" y="609.2" width="11" height="1" fill="#303030"/>
</g>
</svg>
</body></html>
